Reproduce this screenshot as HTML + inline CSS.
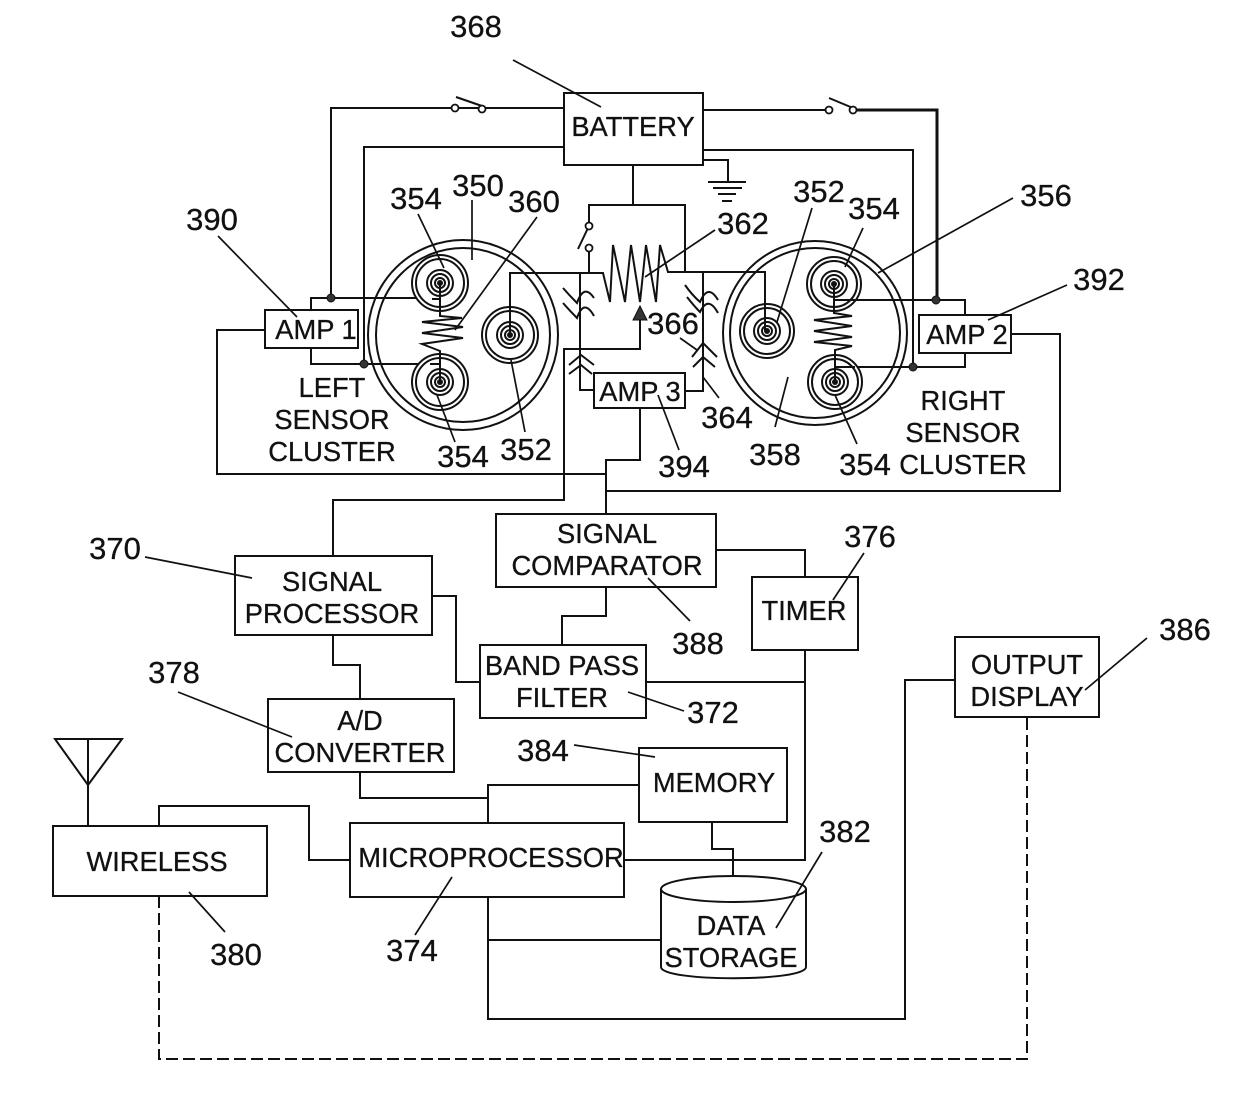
<!DOCTYPE html>
<html><head><meta charset="utf-8"><style>
html,body{margin:0;padding:0;background:#fff;width:1240px;height:1105px;overflow:hidden}
svg{display:block}
text{font-family:"Liberation Sans",sans-serif;fill:#111;stroke:#111;stroke-width:.3;text-anchor:middle}
.b{font-size:27.3px}
.n{font-size:31px}
.l{fill:none;stroke:#111;stroke-width:2}
.t{fill:none;stroke:#111;stroke-width:1.7}
.box{fill:#fff;stroke:#111;stroke-width:2}
</style></head><body>
<svg width="1240" height="1105" viewBox="0 0 1240 1105" xmlns="http://www.w3.org/2000/svg">
<!-- wires top -->
<g class="l">
<path d="M564,108H458M451,108H331V298"/>
<path d="M564,147H364V364"/>
<path d="M703,110H825"/>
<path d="M857,110H937V300" style="stroke-width:3"/>
<path d="M703,150H913V367"/>
<path d="M703,160H728V182"/>
<path d="M633,165V205M589,226V205H685V272"/>
<path d="M589,252V273M510,335V273H603L610,302L613,245L625,302L631,245L640,302L646,245L656,302L660,245L668,272H765V331"/>
<path d="M640,318V349H564V500H333V556"/>
<path d="M580,273V390H594M685,391H703V272"/>
<path d="M640,408V460H606V514M606,491H1060V334H1011"/>
<path d="M265,330H217V474H606"/>
<path d="M311,310V298H432M311,348V364H430"/>
<path d="M965,315V300H855M965,353V367H855"/>
<path d="M716,550H805V577M606,587V616H562V645"/>
<path d="M432,596H456V682H480M333,635V665H360V699"/>
<path d="M360,772V798H488M488,823V785H639"/>
<path d="M805,650V860H624M646,682H805"/>
<path d="M712,822V849H733V876"/>
<path d="M488,897V1019H905V680H955M488,940H661"/>
<path d="M159,826V806H309V860H350"/>
<path d="M159,896V1059H1027V717" stroke-dasharray="12 5"/>
<path d="M55,739H122L88,785ZM88,739V826"/>
<path d="M708,182H746M713,188H742M718,194H736M722,201H732"/>
<path d="M456,97L482,106M829,98L853,108M578,249L588,228"/>
<!-- crossing marks -->
<path d="M563,288Q570,296 577,303Q584,283 594,298M563,303Q570,311 577,318Q584,298 594,316"/>
<path d="M685,285Q692,295 700,302Q708,283 718,300M687,297Q694,306 700,312Q708,295 718,313"/>
<path d="M569,365L581,355L594,365M569,374L581,365L592,374"/>
<path d="M692,357L703,343L717,357M693,367L703,357L715,367"/>
</g>
<g fill="#fff" stroke="#111" stroke-width="1.8">
<circle cx="455" cy="108" r="3.5"/><circle cx="482" cy="109" r="3.5"/>
<circle cx="829" cy="110" r="3.5"/><circle cx="853" cy="110" r="3.5"/>
<circle cx="589" cy="226" r="3.5"/><circle cx="589" cy="248" r="3.5"/>
</g>
<g fill="#333" stroke="#111" stroke-width="1">
<circle cx="331" cy="298" r="4"/><circle cx="364" cy="364" r="4"/>
<circle cx="936" cy="300" r="4"/><circle cx="913" cy="367" r="4"/>
<path d="M640,306L647,320H633Z"/>
</g>
<!-- left cluster -->
<g class="l">
<circle cx="463" cy="335" r="95"/><circle cx="463" cy="335" r="87"/>
<circle cx="440" cy="283" r="28" fill="#fff"/><circle cx="440" cy="283" r="24"/><circle cx="440" cy="283" r="13"/><circle cx="440" cy="283" r="9"/><circle cx="440" cy="283" r="5"/>
<circle cx="440" cy="382" r="28" fill="#fff"/><circle cx="440" cy="382" r="24"/><circle cx="440" cy="382" r="13"/><circle cx="440" cy="382" r="9"/><circle cx="440" cy="382" r="5"/>
<circle cx="510" cy="335" r="28" fill="#fff"/><circle cx="510" cy="335" r="24"/><circle cx="510" cy="335" r="13"/><circle cx="510" cy="335" r="9"/><circle cx="510" cy="335" r="5"/>
<path d="M510,273V335M432,299H440M430,364H440"/>
<path d="M440,283V316L462,318L422,322L463,327L422,333L463,338L422,344L440,351V382"/>
</g>
<g fill="#111"><circle cx="440" cy="283" r="3"/><circle cx="440" cy="382" r="3"/><circle cx="510" cy="335" r="3"/></g>
<!-- right cluster -->
<g class="l">
<circle cx="815" cy="333" r="92"/><circle cx="815" cy="333" r="85"/>
<circle cx="834" cy="284" r="27" fill="#fff"/><circle cx="834" cy="284" r="23"/><circle cx="834" cy="284" r="13"/><circle cx="834" cy="284" r="9"/><circle cx="834" cy="284" r="5"/>
<circle cx="835" cy="382" r="27" fill="#fff"/><circle cx="835" cy="382" r="23"/><circle cx="835" cy="382" r="13"/><circle cx="835" cy="382" r="9"/><circle cx="835" cy="382" r="5"/>
<circle cx="767" cy="331" r="27" fill="#fff"/><circle cx="767" cy="331" r="23"/><circle cx="767" cy="331" r="13"/><circle cx="767" cy="331" r="9"/><circle cx="767" cy="331" r="5"/>
<path d="M765,272V331M834,300H855M836,367H855"/>
<path d="M834,284V313L852,316L814,320L852,326L814,331L852,337L814,342L852,346L835,350V382"/>
</g>
<g fill="#111"><circle cx="834" cy="284" r="3"/><circle cx="835" cy="382" r="3"/><circle cx="767" cy="331" r="3"/></g>
<!-- boxes -->
<g class="box">
<rect x="564" y="93" width="139" height="72"/>
<rect x="265" y="310" width="93" height="38"/>
<rect x="919" y="315" width="92" height="38"/>
<rect x="594" y="373" width="91" height="35"/>
<rect x="235" y="556" width="197" height="79"/>
<rect x="496" y="514" width="220" height="73"/>
<rect x="752" y="577" width="106" height="73"/>
<rect x="480" y="645" width="166" height="73"/>
<rect x="268" y="699" width="186" height="73"/>
<rect x="955" y="637" width="144" height="80"/>
<rect x="639" y="748" width="148" height="74"/>
<rect x="350" y="823" width="274" height="74"/>
<rect x="53" y="826" width="214" height="70"/>
<path d="M661,889V967C661,982 806,982 806,967V889"/>
<ellipse cx="733.5" cy="889" rx="72.5" ry="13"/>
</g>
<!-- leaders -->
<g class="t">
<path d="M513,60L601,107M218,236L297,317M418,214L444,268M472,200V260M537,217L455,330M455,442L437,395M525,432L511,360"/>
<path d="M715,230L645,277M812,208L777,322M863,228L845,267M1013,198L878,273M1067,285L988,320M680,338L697,350M719,398L703,377M679,450L658,395M788,377L775,427M857,444L835,395"/>
<path d="M145,557L252,578M864,553L833,600M690,621L648,578M178,692L292,737M684,711L628,692M574,745L655,757M822,852L776,928M1147,638L1085,690M225,932L189,892M415,935L452,877"/>
</g>
<!-- box labels -->
<g class="b">
<text x="633" y="136">BATTERY</text>
<text x="316" y="339">AMP 1</text>
<text x="967" y="344">AMP 2</text>
<text x="640" y="401">AMP 3</text>
<text x="332" y="397">LEFT</text><text x="332" y="429">SENSOR</text><text x="332" y="461">CLUSTER</text>
<text x="963" y="410">RIGHT</text><text x="963" y="442">SENSOR</text><text x="963" y="474">CLUSTER</text>
<text x="607" y="543">SIGNAL</text><text x="607" y="575">COMPARATOR</text>
<text x="804" y="620">TIMER</text>
<text x="332" y="591">SIGNAL</text><text x="332" y="623">PROCESSOR</text>
<text x="562" y="675">BAND PASS</text><text x="562" y="707">FILTER</text>
<text x="360" y="730">A/D</text><text x="360" y="762">CONVERTER</text>
<text x="1027" y="674">OUTPUT</text><text x="1027" y="706">DISPLAY</text>
<text x="714" y="792">MEMORY</text>
<text x="491" y="867">MICROPROCESSOR</text>
<text x="157" y="871">WIRELESS</text>
<text x="731" y="935">DATA</text><text x="731" y="967">STORAGE</text>
</g>
<!-- numbers -->
<g class="n">
<text x="476" y="37">368</text><text x="212" y="230">390</text><text x="416" y="209">354</text><text x="478" y="196">350</text>
<text x="534" y="212">360</text><text x="743" y="234">362</text><text x="819" y="202">352</text><text x="874" y="219">354</text>
<text x="1046" y="206">356</text><text x="1099" y="290">392</text><text x="673" y="334">366</text><text x="727" y="428">364</text>
<text x="684" y="477">394</text><text x="775" y="465">358</text><text x="865" y="475">354</text><text x="463" y="467">354</text>
<text x="526" y="460">352</text><text x="115" y="559">370</text><text x="870" y="547">376</text><text x="698" y="654">388</text>
<text x="174" y="683">378</text><text x="713" y="723">372</text><text x="543" y="761">384</text><text x="845" y="842">382</text>
<text x="1185" y="640">386</text><text x="236" y="965">380</text><text x="412" y="961">374</text>
</g>
</svg>
</body></html>
